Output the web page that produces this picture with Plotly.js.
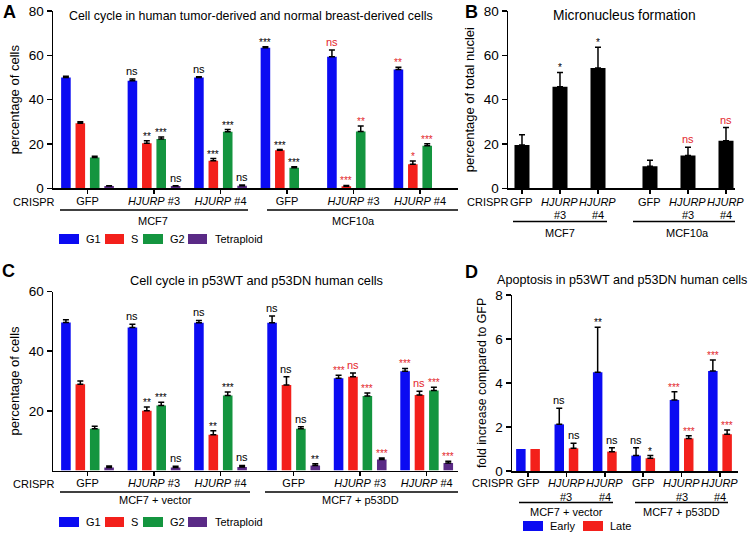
<!DOCTYPE html>
<html><head><meta charset="utf-8">
<script src="https://cdn.plot.ly/plotly-3.0.1.min.js"></script>
<style>html,body{margin:0;padding:0;background:#fff}#chart{width:751px;height:533px}</style>
</head><body><div id="chart"></div>
<script>
// ---------- categories ----------
const crisprGroups = ["GFP", "HJURP #3", "HJURP #4", "GFP", "HJURP #3", "HJURP #4"];
const cellLinesAB = ["MCF7", "MCF10a"];
const cellLinesCD = ["MCF7 + vector", "MCF7 + p53DD"];
const phases = ["G1", "S", "G2", "Tetraploid"];
const apoptosisTypes = ["Early", "Late"];
// comparison control: 1 = compared against second cell line GFP (shown in red)
const cmpSecondLine = [0, 0, 0, 0, 1, 1];

// ---------- Panel A: cell cycle, MCF7 / MCF10a ----------
const aG1 = [50.0, 48.5, 50.0, 63.4, 59.4, 53.6];
const aG1Err = [0.6, 0.8, 0.3, 0.5, 3.0, 1.0];
const aG1Sig = ["", "ns", "ns", "***", "ns", "**"];
const aS = [29.3, 20.3, 12.4, 17.2, 0.9, 10.8];
const aSErr = [0.7, 1.1, 1.0, 0.3, 0.4, 1.5];
const aSSig = ["", "**", "***", "***", "***", "*"];
const aG2 = [13.9, 22.3, 25.5, 9.3, 25.6, 19.2];
const aG2Err = [0.6, 0.8, 1.0, 0.4, 2.5, 0.9];
const aG2Sig = ["", "***", "***", "***", "**", "***"];
const aTet = [1.0, 1.0, 1.2, 0, 0, 0];
const aTetErr = [0.2, 0.2, 0.3, 0, 0, 0];
const aTetSig = ["", "ns", "ns", "", "", ""];

// ---------- Panel B: micronucleus formation ----------
const bMN = [19.5, 45.8, 54.3, 10.0, 14.8, 21.4];
const bMNErr = [4.7, 6.5, 9.3, 2.7, 3.7, 6.0];
const bMNSig = ["", "*", "*", "", "ns", "ns"];

// ---------- Panel C: cell cycle, vector / p53DD ----------
const cG1 = [49.6, 47.9, 49.5, 49.5, 30.9, 33.3];
const cG1Err = [0.9, 1.1, 0.8, 2.3, 1.0, 0.9];
const cG1Sig = ["", "ns", "ns", "ns", "***", "***"];
const cS = [28.9, 20.0, 12.0, 28.7, 31.4, 25.3];
const cSErr = [1.1, 1.3, 1.3, 2.7, 1.3, 1.3];
const cSSig = ["", "**", "**", "ns", "ns", "ns"];
const cG2 = [14.0, 21.8, 25.1, 14.0, 25.0, 26.8];
const cG2Err = [0.8, 1.1, 1.2, 0.7, 1.0, 1.1];
const cG2Sig = ["", "***", "***", "ns", "***", "***"];
const cTet = [1.0, 1.0, 1.2, 1.7, 3.7, 2.5];
const cTetErr = [0.5, 0.4, 0.5, 0.6, 0.5, 0.6];
const cTetSig = ["", "ns", "ns", "**", "***", "***"];

// ---------- Panel D: apoptosis ----------
const dEarly = [1.0, 2.12, 4.49, 0.70, 3.23, 4.55];
const dEarlyErr = [0, 0.73, 2.04, 0.36, 0.37, 0.50];
const dEarlySig = ["", "ns", "**", "ns", "***", "***"];
const dLate = [1.0, 1.03, 0.88, 0.58, 1.48, 1.67];
const dLateErr = [0, 0.23, 0.18, 0.12, 0.12, 0.19];
const dLateSig = ["", "ns", "ns", "*", "***", "***"];

// ---------- helpers ----------
const W = 751, H = 533;
const px = x => x / W, py = y => 1 - y / H;
const FONT = "Liberation Sans, Arial, Helvetica, sans-serif";
const COL = {G1: "#0b0bf2", S: "#f3201b", G2: "#14953f", Tetraploid: "#5a2a86", Early: "#0b0bf2", Late: "#f3201b", MN: "#000000"};
const RED = "#e3262b";
const LBL = 11;   // label font size

const fmt = s => s.replace("HJURP", "<i>HJURP</i>");
const positions = (n, gap) => Array.from({length: n}, (_, i) => i + (i >= 3 ? gap : 0));

const traces = [], annotations = [], shapes = [];

function addSeries(xa, ya, xs, vals, errs, sig, color, center, width) {
  traces.push({
    type: "bar", xaxis: xa, yaxis: ya, x: xs, y: vals, width: width, offset: center - width / 2,
    marker: {color: color, line: {width: 0}},
    error_y: {type: "data", symmetric: false, visible: true,
      array: errs.map(e => e > 0 ? e : NaN), arrayminus: errs.map(e => e > 0 ? 0 : NaN),
      color: "#000", thickness: 1.5, width: 3},
    showlegend: false, hoverinfo: "skip"
  });
  sig.forEach((s, i) => {
    if (!s) return;
    const star = s.indexOf("*") >= 0;
    annotations.push({xref: xa, yref: ya, x: xs[i] + center, y: vals[i] + (errs[i] || 0),
      text: s, showarrow: false, xanchor: "center", yanchor: "bottom", yshift: star ? -3 : 0,
      font: {family: FONT, size: star ? 10 : 11, color: cmpSecondLine[i] ? RED : "#000"}});
  });
}

function txt(x, y, text, size, opts) {
  annotations.push(Object.assign({xref: "paper", yref: "paper", x: px(x), y: py(y), text: text,
    showarrow: false, xanchor: "center", yanchor: "middle",
    font: {family: FONT, size: size, color: "#000"}}, opts || {}));
}
// two-line category labels under narrow bar groups (B and D)
function twoLineLabels(xa, xs, y1, y2) {
  crisprGroups.forEach((s, i) => {
    const parts = s.split(" ");
    [[fmt(parts[0]), y1], [parts[1], y2]].forEach(p => {
      if (!p[0]) return;
      annotations.push({xref: xa, yref: "paper", x: xs[i], y: py(p[1]), text: p[0], showarrow: false,
        xanchor: "center", yanchor: "middle", font: {family: FONT, size: LBL, color: "#000"}});
    });
  });
}
function hline(x0, x1, y) {
  shapes.push({type: "line", xref: "paper", yref: "paper", x0: px(x0), x1: px(x1), y0: py(y), y1: py(y),
    line: {color: "#000", width: 1.3}});
}
function swatch(x0, x1, yc, color) {
  shapes.push({type: "rect", xref: "paper", yref: "paper", x0: px(x0), x1: px(x1), y0: py(yc + 5), y1: py(yc - 5),
    fillcolor: color, line: {width: 0}});
}

function xAxis(domain, range, tickvals, ticktext, anchor) {
  return {domain: domain, range: range, tickmode: "array", tickvals: tickvals, ticktext: ticktext, anchor: anchor,
    showline: true, linecolor: "#000", linewidth: 1.5, ticks: "outside", ticklen: 4, tickwidth: 1.5, tickcolor: "#000",
    tickangle: 0, ticklabelstandoff: -2, showticklabels: !!ticktext,
    showgrid: false, zeroline: false, fixedrange: true, tickfont: {family: FONT, size: LBL, color: "#000"}};
}
function yAxis(domain, range, tickvals, title, anchor, tsize) {
  return {domain: domain, range: range, tickmode: "array", tickvals: tickvals, anchor: anchor,
    showline: true, linecolor: "#000", linewidth: 1.5, ticks: "outside", ticklen: 5, tickwidth: 1.5, tickcolor: "#000",
    showgrid: false, zeroline: false, fixedrange: true, tickfont: {family: FONT, size: 13.5, color: "#000"},
    title: {text: title, font: {family: FONT, size: tsize, color: "#000"}, standoff: 6}};
}

// ---------- Panel A ----------
const xA = positions(crisprGroups.length, 0);
const slot4 = 0.2165, w4 = 0.144;
[[aG1, aG1Err, aG1Sig], [aS, aSErr, aSSig], [aG2, aG2Err, aG2Sig], [aTet, aTetErr, aTetSig]].forEach((s, k) =>
  addSeries("x", "y", xA, s[0], s[1], s[2], COL[phases[k]], (k - 1.5) * slot4, w4));

// ---------- Panel B ----------
const xB = positions(crisprGroups.length, 0.368);
addSeries("x2", "y2", xB, bMN, bMNErr, bMNSig, COL.MN, 0, 0.395);
twoLineLabels("x2", xB, 202, 215);

// ---------- Panel C ----------
const xC = positions(crisprGroups.length, 0.1);
[[cG1, cG1Err, cG1Sig], [cS, cSErr, cSSig], [cG2, cG2Err, cG2Sig], [cTet, cTetErr, cTetSig]].forEach((s, k) =>
  addSeries("x3", "y3", xC, s[0], s[1], s[2], COL[phases[k]], (k - 1.5) * slot4, w4));

// ---------- Panel D ----------
const xD = positions(crisprGroups.length, 0);
const slot2 = 0.372, w2 = 0.247;
[[dEarly, dEarlyErr, dEarlySig], [dLate, dLateErr, dLateSig]].forEach((s, k) =>
  addSeries("x4", "y4", xD, s[0], s[1], s[2], COL[apoptosisTypes[k]], (k - 0.5) * slot2, w2));
twoLineLabels("x4", xD, 483, 496.5);

// ---------- decorations ----------
// panel letters
txt(9, 12, "<b>A</b>", 18); txt(471, 12, "<b>B</b>", 18);
txt(8, 271, "<b>C</b>", 18); txt(471, 272, "<b>D</b>", 18);
// titles
txt(67, 16, "Cell cycle in human tumor-derived and normal breast-derived cells", 12.4, {xanchor: "left"});
txt(624, 15, "Micronucleus formation", 13.8);
txt(128, 280, "Cell cycle in p53WT and p53DN human cells", 12.8, {xanchor: "left"});
txt(622, 280, "Apoptosis in p53WT and p53DN human cells", 12.6);
// CRISPR labels
txt(34, 202, "CRISPR", LBL); txt(34, 484, "CRISPR", LBL);
txt(488, 202, "CRISPR", LBL); txt(493, 483, "CRISPR", LBL);
// cell-line underlines and labels
hline(60, 248, 210); hline(267, 458, 210);
txt(153, 221, cellLinesAB[0], LBL); txt(353, 221, cellLinesAB[1], LBL);
hline(513, 607, 221.5); hline(633, 735, 221.5);
txt(560, 232.5, cellLinesAB[0], LBL); txt(687, 232.5, cellLinesAB[1], LBL);
hline(60, 250, 492); hline(265, 458, 492);
txt(155, 500, cellLinesCD[0], LBL); txt(360, 500, cellLinesCD[1], LBL);
hline(519, 613, 502.5); hline(635, 728, 502.5);
txt(566, 511.5, cellLinesCD[0], LBL); txt(681, 511.5, cellLinesCD[1], LBL);
// legends
const legX = [[59, 79, 84], [105, 124, 129], [143, 163, 168], [188, 207, 213]];
[239, 522].forEach(yc => phases.forEach((p, k) => {
  swatch(legX[k][0], legX[k][1], yc, COL[p]);
  txt(legX[k][2], yc, p, LBL, {xanchor: "left"});
}));
const legD = [[523, 543, 548], [583, 603, 608]];
apoptosisTypes.forEach((p, k) => {
  swatch(legD[k][0], legD[k][1], 526, COL[p]);
  txt(legD[k][2], 526, p, LBL, {xanchor: "left"});
});

const layout = {
  width: W, height: H, margin: {l: 0, r: 0, t: 0, b: 0},
  paper_bgcolor: "#fff", plot_bgcolor: "rgba(0,0,0,0)", barmode: "overlay", showlegend: false,
  font: {family: FONT, color: "#000"},
  xaxis: xAxis([px(53), px(458)], [-0.519, 5.571], xA, crisprGroups.map(fmt), "y"),
  yaxis: yAxis([py(188.3), py(11)], [0, 80], [0, 20, 40, 60, 80], "percentage of cells", "x", 13),
  xaxis2: xAxis([px(508), px(735)], [-0.368, 5.605], xB, null, "y2"),
  yaxis2: yAxis([py(188.3), py(11)], [0, 80], [0, 20, 40, 60, 80], "percentage of total nuclei", "x2", 13),
  xaxis3: xAxis([px(53), px(458)], [-0.519, 5.571], xC, crisprGroups.map(fmt), "y3"),
  yaxis3: yAxis([py(470.5), py(291.5)], [0, 60], [20, 40, 60], "percentage of cells", "x3", 13),
  xaxis4: xAxis([px(512), px(738)], [-0.417, 5.469], xD, null, "y4"),
  yaxis4: yAxis([py(471), py(295)], [0, 8], [0, 2, 4, 6, 8], "fold increase compared to GFP", "x4", 12.3),
  annotations: annotations, shapes: shapes
};

Plotly.newPlot("chart", traces, layout, {displayModeBar: false, staticPlot: true});
</script>
</body></html>
